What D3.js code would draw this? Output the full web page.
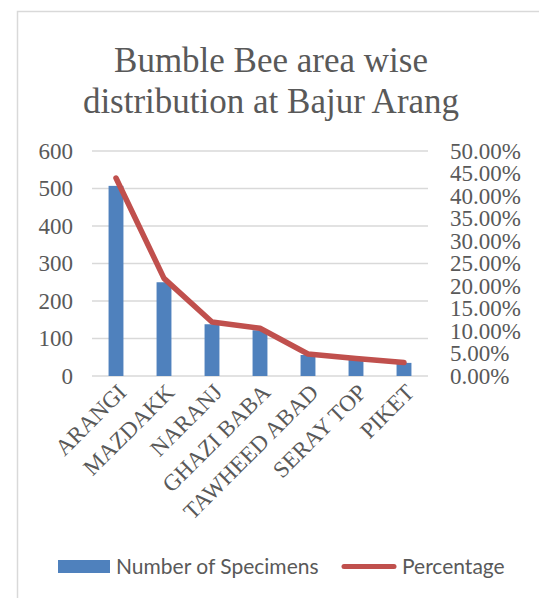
<!DOCTYPE html>
<meta charset="utf-8">
<style>
    body { margin: 0; background: #fff; }
    .tick text { font-family: "Liberation Serif", "Times New Roman", serif; font-size: 23px; fill: #595959; }
    .title { font-family: "Liberation Serif", "Times New Roman", serif; font-size: 35px; fill: #595959; }
    .legend text { font-family: Lato, "Open Sans", sans-serif; font-size: 21px; fill: #595959; }
</style>
<body>
<script src="https://cdn.jsdelivr.net/npm/d3@7"></script>
<script>
    var areas = ["ARANGI", "MAZDAKK", "NARANJ", "GHAZI BABA", "TAWHEED ABAD", "SERAY TOP", "PIKET"];
    var specimens = [507, 250, 138, 122, 56, 45, 35];
    var percentage = [0.44, 0.217, 0.12, 0.106, 0.049, 0.039, 0.03];
    var leftTicks = [0, 100, 200, 300, 400, 500, 600];
    var rightTicks = [0, 0.05, 0.1, 0.15, 0.2, 0.25, 0.3, 0.35, 0.4, 0.45, 0.5];

    var width = 539, height = 598;
    var plot = { left: 92, right: 428, top: 151, bottom: 376 };

    var svg = d3.select("body").append("svg")
        .attr("width", width)
        .attr("height", height);

    // chart frame (only the top and left edges fall inside the picture)
    svg.append("rect")
        .attr("x", 17.5).attr("y", 11.5)
        .attr("width", 600).attr("height", 650)
        .attr("fill", "none").attr("stroke", "#d9d9d9").attr("stroke-width", 1.5);

    svg.append("text")
        .attr("class", "title")
        .attr("text-anchor", "middle")
        .selectAll("tspan")
        .data(["Bumble Bee area wise", "distribution at Bajur Arang"])
        .enter().append("tspan")
        .attr("x", 271)
        .attr("y", function (d, i) { return 72 + i * 41; })
        .text(function (d) { return d; });

    var x = d3.scaleBand().domain(areas).range([plot.left, plot.right]).paddingInner(0.69).paddingOuter(0.345);
    var y = d3.scaleLinear().domain([0, 600]).range([plot.bottom, plot.top]);
    var y2 = d3.scaleLinear().domain([0, 0.5]).range([plot.bottom, plot.top]);

    // gridlines
    svg.append("g")
        .selectAll("line")
        .data(leftTicks)
        .enter().append("line")
        .attr("x1", plot.left).attr("x2", plot.right)
        .attr("y1", function (d) { return y(d); })
        .attr("y2", function (d) { return y(d); })
        .attr("stroke", "#d9d9d9").attr("stroke-width", 1.5);

    var yAxis = svg.append("g")
        .attr("transform", "translate(" + (plot.left - 19) + ",0)")
        .call(d3.axisLeft(y).tickValues(leftTicks).tickSize(0).tickPadding(0));
    yAxis.select(".domain").remove();
    yAxis.selectAll("text").attr("dy", "0.32em");

    var y2Axis = svg.append("g")
        .attr("transform", "translate(" + (plot.right + 22) + ",0)")
        .call(d3.axisRight(y2).tickValues(rightTicks).tickSize(0).tickPadding(0)
            .tickFormat(function (d) { return (d * 100).toFixed(2) + "%"; }));
    y2Axis.select(".domain").remove();
    y2Axis.selectAll("text").attr("dy", "0.32em");

    svg.append("g")
        .selectAll("rect")
        .data(specimens)
        .enter().append("rect")
        .attr("x", function (d, i) { return x(areas[i]); })
        .attr("y", function (d) { return y(d); })
        .attr("width", x.bandwidth())
        .attr("height", function (d) { return y(0) - y(d); })
        .attr("fill", "#4f81bd");

    var line = d3.line()
        .x(function (d, i) { return x(areas[i]) + x.bandwidth() / 2; })
        .y(function (d) { return y2(d); });

    svg.append("path")
        .datum(percentage)
        .attr("d", line)
        .attr("fill", "none")
        .attr("stroke", "#c0504d")
        .attr("stroke-width", 5.5)
        .attr("stroke-linecap", "round")
        .attr("stroke-linejoin", "round");

    // category labels at -45 degrees
    var xAxis = svg.append("g")
        .attr("transform", "translate(0," + (plot.bottom + 12) + ")")
        .call(d3.axisBottom(x).tickSize(0).tickPadding(0));
    xAxis.select(".domain").remove();
    xAxis.selectAll("text")
        .attr("text-anchor", "end")
        .attr("dy", "0.35em")
        .attr("transform", "translate(6,0) rotate(-45)");

    var legend = svg.append("g").attr("class", "legend");
    legend.append("rect")
        .attr("x", 58).attr("y", 560).attr("width", 52).attr("height", 13)
        .attr("fill", "#4f81bd");
    legend.append("text")
        .attr("x", 116).attr("y", 574)
        .text("Number of Specimens");
    legend.append("line")
        .attr("x1", 344).attr("x2", 394).attr("y1", 566.5).attr("y2", 566.5)
        .attr("stroke", "#c0504d").attr("stroke-width", 5).attr("stroke-linecap", "round");
    legend.append("text")
        .attr("x", 402).attr("y", 574)
        .text("Percentage");
</script>
</body>
